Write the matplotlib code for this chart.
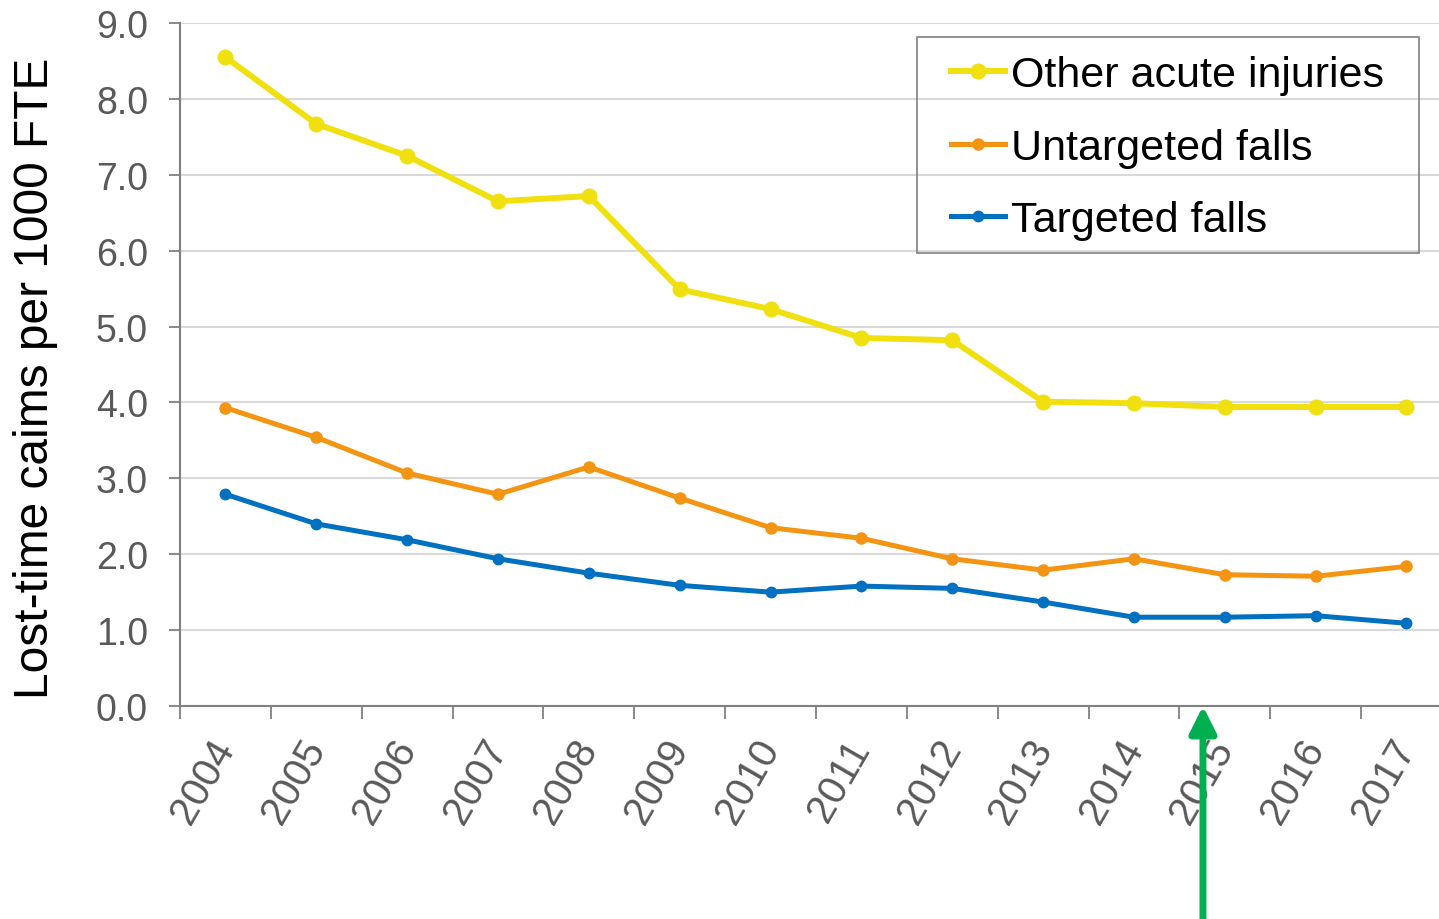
import matplotlib
matplotlib.use("Agg")
from matplotlib import pyplot as plt
from matplotlib.patches import Rectangle
import numpy as np

years = ["2004", "2005", "2006", "2007", "2008", "2009", "2010",
         "2011", "2012", "2013", "2014", "2015", "2016", "2017"]
other_acute = [8.55, 7.67, 7.25, 6.65, 6.72, 5.49, 5.23,
               4.85, 4.82, 4.01, 3.99, 3.94, 3.94, 3.94]
untargeted_falls = [3.93, 3.54, 3.07, 2.79, 3.15, 2.74, 2.35,
                    2.21, 1.94, 1.79, 1.94, 1.73, 1.71, 1.84]
targeted_falls = [2.79, 2.40, 2.19, 1.94, 1.75, 1.59, 1.50,
                  1.58, 1.55, 1.37, 1.17, 1.17, 1.19, 1.09]
arrow_x = 10.76  # program start, between 2014 and 2015

plt.rcParams['font.family'] = ['Liberation Sans', 'DejaVu Sans']

W, H = 1439, 920
fig = plt.figure(figsize=(W / 100, H / 100), dpi=100)
# axes runs a little past the right edge of the figure
ax = fig.add_axes([180 / W, (H - 707) / H, 14 * 90.85 / W, 683 / H])

x = np.arange(len(years))
ax.plot(x, other_acute, color='#F0E00F', lw=4.3, marker='o', ms=10.5,
        label='Other acute injuries', solid_joinstyle='round')
ax.plot(x, untargeted_falls, color='#F39513', lw=3.6, marker='o', ms=8,
        label='Untargeted falls', solid_joinstyle='round')
ax.plot(x, targeted_falls, color='#0070C0', lw=3.6, marker='o', ms=7.5,
        label='Targeted falls', solid_joinstyle='round')

ax.set_xlim(-0.5, len(years) - 0.5)
ax.set_ylim(0, 9)
ax.set_yticks(np.arange(0, 10, 1))
ax.set_yticklabels([f"{v:.1f}" for v in range(10)])
ax.yaxis.grid(True, color='#D9D9D9', lw=1.5)
ax.set_axisbelow(True)

ax.set_xticks(x)
ax.set_xticklabels(years, rotation=60, ha='right', va='center',
                   rotation_mode='anchor')
ax.set_xticks(np.arange(-0.5, len(years), 1), minor=True)
ax.tick_params(axis='x', which='major', length=0, pad=26,
               labelsize=29, labelcolor='#595959')
ax.tick_params(axis='x', which='minor', length=9, width=1.3, color='#808080')
ax.tick_params(axis='y', length=8, width=1.3, color='#808080', pad=15,
               labelsize=27, labelcolor='#595959')

for side in ('top', 'right'):
    ax.spines[side].set_visible(False)
for side in ('left', 'bottom'):
    ax.spines[side].set_color('#808080')
    ax.spines[side].set_linewidth(1.5)

fig.text(36 / W, 1 - 378 / H, "Lost-time caims per 1000 FTE", rotation=90,
         ha='center', va='center', fontsize=34.5, color='black')

# legend entries without frame, box drawn separately
leg = ax.legend(loc='upper left', bbox_to_anchor=(951 / W, 1 - 56 / H),
                bbox_transform=fig.transFigure, borderaxespad=0,
                borderpad=0, fontsize=31, frameon=False,
                handlelength=1.25, handletextpad=0.15, labelspacing=0.76)
fig.patches.append(Rectangle((917 / W, 1 - 254 / H), 502 / W, 216 / H,
                             transform=fig.transFigure, fill=False,
                             edgecolor='#808080', lw=1.2, zorder=5))

# green arrow from the bottom of the figure up to the x axis
ax.annotate('', xy=(arrow_x, 0), xycoords='data',
            xytext=(arrow_x, 0), textcoords=('data', 'figure fraction'),
            arrowprops=dict(arrowstyle='-|>,head_length=1.6,head_width=0.8',
                            color='#00B050', lw=5, mutation_scale=10,
                            shrinkA=0, shrinkB=0),
            annotation_clip=False)

fig.savefig('out.png', dpi=100)
